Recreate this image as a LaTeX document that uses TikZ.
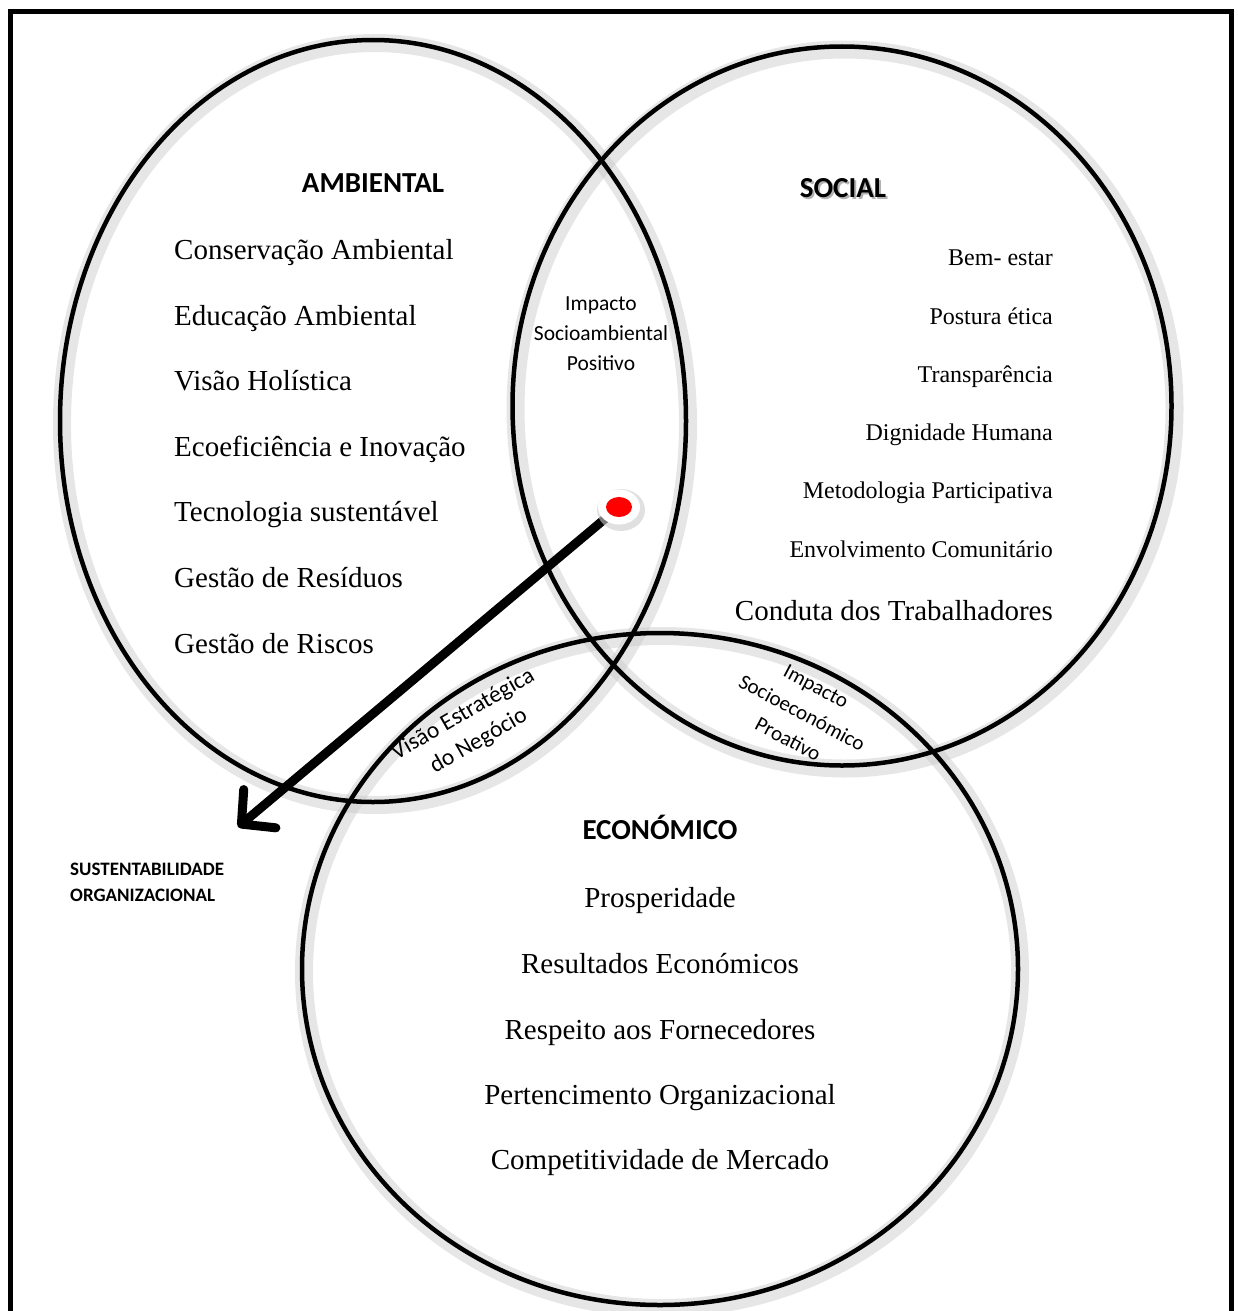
\documentclass[tikz,border=0pt]{standalone}
\usepackage{fontspec}
\setmainfont{Liberation Serif}
\newfontfamily\calibri{Carlito}
\usetikzlibrary{shapes.geometric,arrows.meta}

\tikzset{
  circ/.style={ellipse, draw=black, line width=4.5pt, inner sep=0pt},
  glow/.style={ellipse, draw=black!22, line width=18pt, opacity=0.45, inner sep=0pt},
  title/.style={font=\calibri\bfseries\fontsize{29}{35}\selectfont, inner sep=0pt},
  item/.style={font=\fontsize{29}{35}\selectfont, inner sep=0pt},
  smallitem/.style={font=\fontsize{24}{28}\selectfont, inner sep=0pt},
  zone/.style={font=\calibri\fontsize{21.5}{30}\selectfont, align=center, inner sep=0pt},
  slant/.style={font=\calibri\fontsize{23.5}{31}\selectfont, align=center, inner sep=0pt},
}

\begin{document}
\begin{tikzpicture}[x=1pt,y=-1pt]
\useasboundingbox (0,0) rectangle (1237,1311);
\draw [line width=5pt] (10,12) rectangle (1231,1340);
% soft shadows round the three circles
\node [glow, minimum width=626pt, minimum height=762pt] (ambShade) at (375,424) {};
\node [glow, minimum width=659pt, minimum height=719pt] (socShade) at (845,409) {};
\node [glow, minimum width=716pt, minimum height=672pt] (ecoShade) at (662,972) {};
% the three circles
\node [circ, minimum width=626pt, minimum height=762pt] (amb) at (373,421) {};
\node [circ, minimum width=659pt, minimum height=719pt] (soc) at (842,406) {};
\node [circ, minimum width=716pt, minimum height=672pt] (eco) at (660,969) {};
% ambiental
\node [title, anchor=base] (ambTitle) at (373,192) {AMBIENTAL};
\node [item, anchor=base west] (amb1) at (174,259) {Conservação Ambiental};
\node [item, anchor=base west] (amb2) at (174,325) {Educação Ambiental};
\node [item, anchor=base west] (amb3) at (174,390) {Visão Holística};
\node [item, anchor=base west] (amb4) at (174,456) {Ecoeficiência e Inovação};
\node [item, anchor=base west] (amb5) at (174,521) {Tecnologia sustentável};
\node [item, anchor=base west] (amb6) at (174,587) {Gestão de Resíduos};
\node [item, anchor=base west] (amb7) at (174,653) {Gestão de Riscos};
% social
\node [title, anchor=base, text=black!30] (socTitleShade) at (845,199) {SOCIAL};
\node [title, anchor=base] (socTitle) at (843,197) {SOCIAL};
\node [smallitem, anchor=base east] (soc1) at (1053,265) {Bem- estar};
\node [smallitem, anchor=base east] (soc2) at (1053,324) {Postura ética};
\node [smallitem, anchor=base east] (soc3) at (1053,382) {Transparência};
\node [smallitem, anchor=base east] (soc4) at (1053,440) {Dignidade Humana};
\node [smallitem, anchor=base east] (soc5) at (1053,498) {Metodologia Participativa};
\node [smallitem, anchor=base east] (soc6) at (1053,557) {Envolvimento Comunitário};
\node [item, anchor=base east] (soc7) at (1053,620) {Conduta dos Trabalhadores};
% economico
\node [title, anchor=base] (ecoTitle) at (660,839) {ECONÓMICO};
\node [item, anchor=base] (eco1) at (660,907) {Prosperidade};
\node [item, anchor=base] (eco2) at (660,973) {Resultados Económicos};
\node [item, anchor=base] (eco3) at (660,1039) {Respeito aos Fornecedores};
\node [item, anchor=base] (eco4) at (660,1104) {Pertencimento Organizacional};
\node [item, anchor=base] (eco5) at (660,1169) {Competitividade de Mercado};
% overlaps
\node [zone] (ambSoc) at (601,334) {Impacto\\Socioambiental\\Positivo};
\node [slant, rotate=30] (ambEco) at (471,728) {Visão Estratégica\\do Negócio};
\node [zone, font=\calibri\fontsize{21}{30}\selectfont, rotate=-28] (socEco) at (802,713) {Impacto\\Socioeconómico\\Proativo};
% centre spot and arrow
\coordinate (spot) at (619,507);
\coordinate (tip) at (238,827);
\draw [line width=9pt, line cap=round, -{Straight Barb[length=24pt,width=50pt,round]}] (spot) -- (tip);
\node [ellipse, fill=black!20, opacity=0.6, minimum width=48pt, minimum height=42pt, inner sep=0pt] (spotShade) at (621,510) {};
\node [ellipse, fill=white, minimum width=42pt, minimum height=35pt, inner sep=0pt] (halo) at (spot) {};
\node [ellipse, fill=red, minimum width=26pt, minimum height=20pt, inner sep=0pt] (dot) at (spot) {};
\node [font=\calibri\bfseries\fontsize{19}{26}\selectfont, align=left, anchor=west, inner sep=0pt] (sust) at (70,882) {SUSTENTABILIDADE\\ORGANIZACIONAL};
\end{tikzpicture}
\end{document}
